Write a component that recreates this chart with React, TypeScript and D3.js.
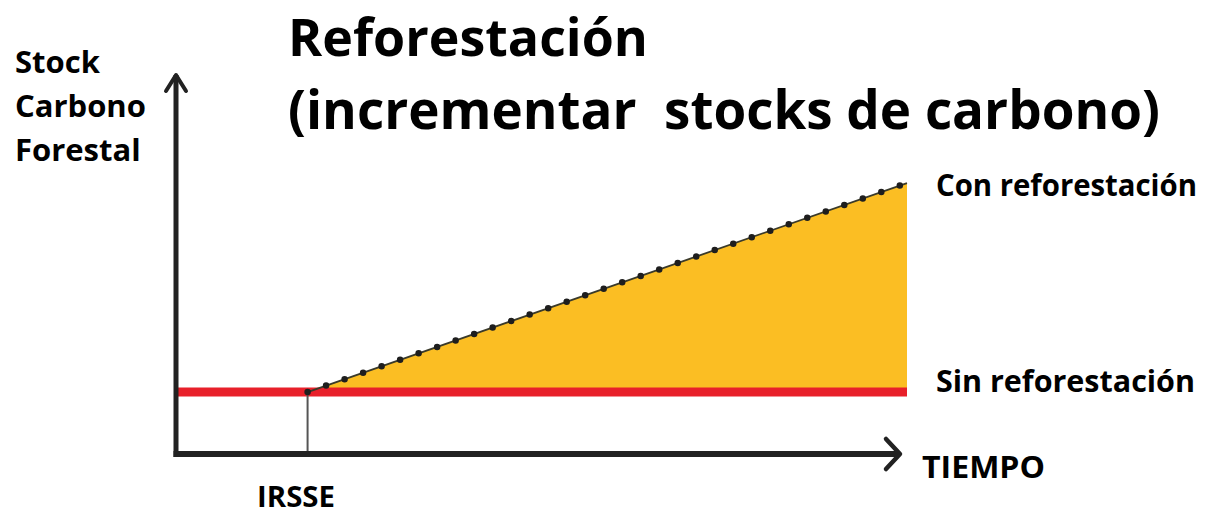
import React from "react";
import * as d3 from "d3";

// ---- data ----
const timeDomain: [number, number] = [0, 100];
const stockDomain: [number, number] = [0, 100];
const irsseTime = 18;
const sinReforestacion = [
  { t: 0, v: 16.3 },
  { t: 100, v: 16.3 },
];
const conReforestacion = [
  { t: 18, v: 16.3 },
  { t: 100, v: 71.3 },
];
const titleLines = ["Reforestación", "(incrementar  stocks de carbono)"];
const yAxisLabel = ["Stock", "Carbono", "Forestal"];
const xAxisLabel = "TIEMPO";
const xTickLabel = "IRSSE";
const seriesLabels = ["Con reforestación", "Sin reforestación"];

const W = 1213;
const H = 514;
const FONT = "'Open Sans', 'DejaVu Sans', sans-serif";

export default function App() {
  const x = d3.scaleLinear().domain(timeDomain).range([176, 907]);
  const y = d3.scaleLinear().domain(stockDomain).range([454, 74]);

  const area = d3
    .area<{ t: number; v: number }>()
    .x((d) => x(d.t))
    .y0(() => y(sinReforestacion[0].v))
    .y1((d) => y(d.v));
  const line = d3
    .line<{ t: number; v: number }>()
    .x((d) => x(d.t))
    .y((d) => y(d.v));

  const ox = x(0);
  const oy = y(0);
  const yTop = y(100) - 1;
  const xEnd = 900;

  return (
    <div style={{ position: "fixed", left: 0, top: 0, width: W, height: H, background: "#fff" }}>
      <svg width={W} height={H} style={{ display: "block" }}>
        <rect width={W} height={H} fill="#fff" />
        {/* title */}
        <text x={288} y={56} fontFamily={FONT} fontWeight={700} fontSize={52} fill="#000"
          textLength={360} lengthAdjust="spacingAndGlyphs">{titleLines[0]}</text>
        <text x={288} y={129} fontFamily={FONT} fontWeight={700} fontSize={54} fill="#000"
          textLength={872} lengthAdjust="spacingAndGlyphs" style={{ whiteSpace: "pre" }}>{titleLines[1]}</text>

        {/* y axis label */}
        {yAxisLabel.map((s, i) => (
          <text key={s} x={15} y={73 + i * 44} fontFamily={FONT} fontWeight={700} fontSize={31} fill="#000">{s}</text>
        ))}

        {/* area between series */}
        <path d={area(conReforestacion) || ""} fill="#FBBE23" />

        {/* sin reforestación line */}
        <path d={line(sinReforestacion) || ""} stroke="#E8202A" strokeWidth={9} fill="none" />

        {/* IRSSE marker */}
        <line x1={x(irsseTime)} x2={x(irsseTime)} y1={y(sinReforestacion[0].v)} y2={oy}
          stroke="#555" strokeWidth={2} />

        {/* con reforestación dotted line */}
        <path d={line(conReforestacion) || ""} stroke="#3a3a2a" strokeWidth={1.8} fill="none" />
        <path d={line(conReforestacion) || ""} stroke="#1e1e1e" strokeWidth={6.5} fill="none"
          strokeDasharray="0 19.6" strokeLinecap="round" />

        {/* axes */}
        <line x1={ox} x2={ox} y1={oy + 3} y2={yTop + 2} stroke="#222" strokeWidth={5} />
        <path d={`M${ox - 10},${yTop + 18} L${ox},${yTop + 2} L${ox + 10},${yTop + 18}`}
          stroke="#222" strokeWidth={4} fill="none" strokeLinecap="round" strokeLinejoin="round" />
        <line x1={ox - 2.5} x2={xEnd - 2} y1={oy} y2={oy} stroke="#222" strokeWidth={6} />
        <path d={`M${xEnd - 14},${oy - 15} L${xEnd},${oy} L${xEnd - 14},${oy + 15}`}
          stroke="#222" strokeWidth={4.5} fill="none" strokeLinecap="round" strokeLinejoin="round" />

        {/* labels */}
        <text x={936} y={196} fontFamily={FONT} fontWeight={700} fontSize={31} fill="#000"
          textLength={261} lengthAdjust="spacingAndGlyphs">{seriesLabels[0]}</text>
        <text x={936} y={392} fontFamily={FONT} fontWeight={700} fontSize={31} fill="#000"
          textLength={259} lengthAdjust="spacingAndGlyphs">{seriesLabels[1]}</text>
        <text x={922} y={478} fontFamily={FONT} fontWeight={700} fontSize={31} fill="#000"
          textLength={123} lengthAdjust="spacingAndGlyphs">{xAxisLabel}</text>
        <text x={257} y={507} fontFamily={FONT} fontWeight={700} fontSize={28} fill="#000"
          textLength={78} lengthAdjust="spacingAndGlyphs">{xTickLabel}</text>
      </svg>
    </div>
  );
}
